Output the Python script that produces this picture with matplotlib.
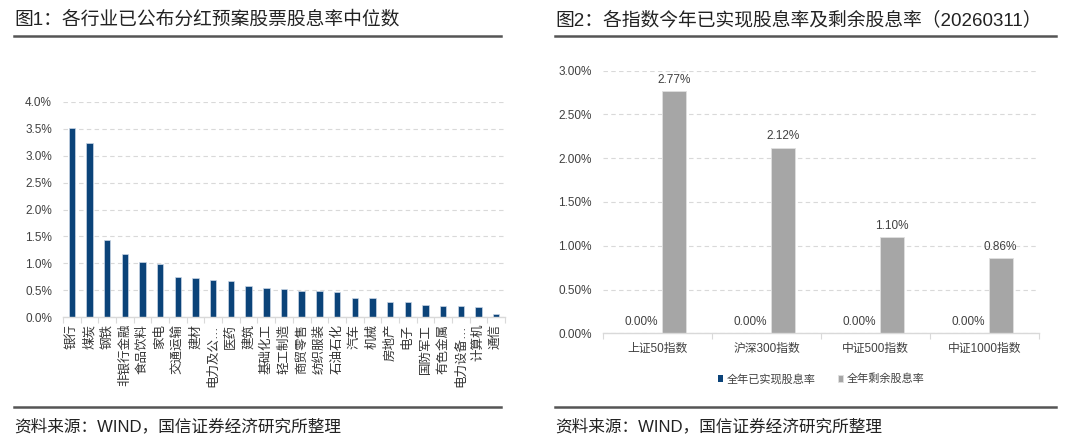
import matplotlib

matplotlib.use("agg")
import matplotlib.pyplot as plt
import numpy as np
from matplotlib.lines import Line2D
from matplotlib.ticker import FuncFormatter, FixedLocator

plt.rcParams["font.family"] = ["Liberation Sans", "Noto Sans CJK SC", "DejaVu Sans"]

# chart 1 data
industries = ["银行", "煤炭", "钢铁", "非银行金融", "食品饮料", "家电", "交通运输", "建材",
              "电力及公…", "医药", "建筑", "基础化工", "轻工制造", "商贸零售", "纺织服装",
              "石油石化", "汽车", "机械", "房地产", "电子", "国防军工", "有色金属",
              "电力设备…", "计算机", "通信"]
industry_yield = [3.52, 3.23, 1.44, 1.18, 1.02, 0.98, 0.75, 0.73, 0.68, 0.67, 0.58, 0.54,
                  0.52, 0.48, 0.48, 0.46, 0.35, 0.35, 0.28, 0.27, 0.22, 0.21, 0.21, 0.19, 0.06]

# chart 2 data
indices = ["上证50指数", "沪深300指数", "中证500指数", "中证1000指数"]
realized = [0.00, 0.00, 0.00, 0.00]
remaining = [2.77, 2.12, 1.10, 0.86]
legend_names = ["全年已实现股息率", "全年剩余股息率"]

W, H = 1080, 441
fig = plt.figure(figsize=(W / 100, H / 100), dpi=100)
fig.patch.set_facecolor("white")

BLUE = "#0b4379"
GRAY = "#a6a6a6"
TXT = "#404040"


def px_axes(x0, y0, x1, y1):
    # pixel box (top-left origin) -> axes
    return fig.add_axes([x0 / W, 1 - y1 / H, (x1 - x0) / W, (y1 - y0) / H])


def hline(x0, x1, y, lw=1.8):
    fig.add_artist(Line2D([x0 / W, x1 / W], [1 - y / H, 1 - y / H],
                          color="#555555", lw=lw, transform=fig.transFigure))


def style_axes(ax):
    for s in ["top", "right", "left"]:
        ax.spines[s].set_visible(False)
    ax.spines["bottom"].set_color("#d9d9d9")
    ax.spines["bottom"].set_linewidth(1.0)
    ax.yaxis.grid(True, color="#d9d9d9", linestyle=(0, (4, 3)), linewidth=0.8)
    ax.set_axisbelow(True)
    ax.tick_params(axis="y", length=0, labelsize=8.5, labelcolor=TXT, pad=8)


# ---- chart 1
ax1 = px_axes(63, 102, 505, 317)
x1 = np.arange(len(industries))
ax1.bar(x1, industry_yield, width=0.36, color=BLUE, edgecolor="#c9d6e6", linewidth=0.5)
ax1.set_xlim(-0.5, len(industries) - 0.5)
ax1.set_ylim(0, 4.0)
ax1.set_yticks(np.arange(0, 4.01, 0.5))
ax1.yaxis.set_major_formatter(FuncFormatter(lambda v, p: f"{v:.1f}%"))
style_axes(ax1)
ax1.set_xticks(x1)
ax1.set_xticklabels(industries, rotation=90, fontsize=9, color="#333333")
ax1.tick_params(axis="x", which="major", length=0, pad=5)
ax1.xaxis.set_minor_locator(FixedLocator(np.arange(-0.5, len(industries), 1.0)))
ax1.tick_params(axis="x", which="minor", length=4, color="#d9d9d9", width=0.8)

# ---- chart 2
ax2 = px_axes(603, 70.7, 1039, 333.3)
x2 = np.arange(len(indices))
off = 0.148
bw = 0.22
b1 = ax2.bar(x2 - off, realized, width=bw, color=BLUE, label=legend_names[0])
b2 = ax2.bar(x2 + off, remaining, width=bw, color=GRAY, edgecolor="#e0e0e0",
             linewidth=0.6, label=legend_names[1])
for xi, v in zip(x2, realized):
    ax2.text(xi - off, v + 0.06, f"{v:.2f}%", ha="center", va="bottom", fontsize=8.5, color=TXT)
for xi, v in zip(x2, remaining):
    ax2.text(xi + off, v + 0.06, f"{v:.2f}%", ha="center", va="bottom", fontsize=8.5, color=TXT)
ax2.set_xlim(-0.5, len(indices) - 0.5)
ax2.set_ylim(0, 3.0)
ax2.set_yticks(np.arange(0, 3.01, 0.5))
ax2.yaxis.set_major_formatter(FuncFormatter(lambda v, p: f"{v:.2f}%"))
style_axes(ax2)
ax2.set_xticks(x2)
ax2.set_xticklabels(indices, fontsize=8.5, color=TXT)
ax2.tick_params(axis="x", which="major", length=0, pad=7)
ax2.xaxis.set_minor_locator(FixedLocator(np.arange(-0.5, len(indices), 1.0)))
ax2.tick_params(axis="x", which="minor", length=4, color="#d9d9d9", width=0.8)
leg = ax2.legend(loc="upper center", bbox_to_anchor=(0.5, -0.115), ncol=2, frameon=False,
                 fontsize=8, handlelength=0.5, handleheight=0.5, handletextpad=0.3,
                 columnspacing=2.0, labelcolor=TXT)

# ---- titles, rules, sources
fig.text(14 / W, 1 - 20 / H, "图1：各行业已公布分红预案股票股息率中位数", fontsize=13.5,
         color="#222222", va="center", ha="left")
fig.text(555 / W, 1 - 20 / H, "图2：各指数今年已实现股息率及剩余股息率（20260311）", fontsize=13.5,
         color="#222222", va="center", ha="left")
hline(14, 501, 35.5)
hline(555, 1056, 35.5)
hline(14, 501, 406.5)
hline(555, 1056, 406.5)
fig.text(14 / W, 1 - 426 / H, "资料来源：WIND，国信证券经济研究所整理", fontsize=12,
         color="#222222", va="center", ha="left")
fig.text(555 / W, 1 - 426 / H, "资料来源：WIND，国信证券经济研究所整理", fontsize=12,
         color="#222222", va="center", ha="left")

fig.savefig("out.png", dpi=100, facecolor="white")
